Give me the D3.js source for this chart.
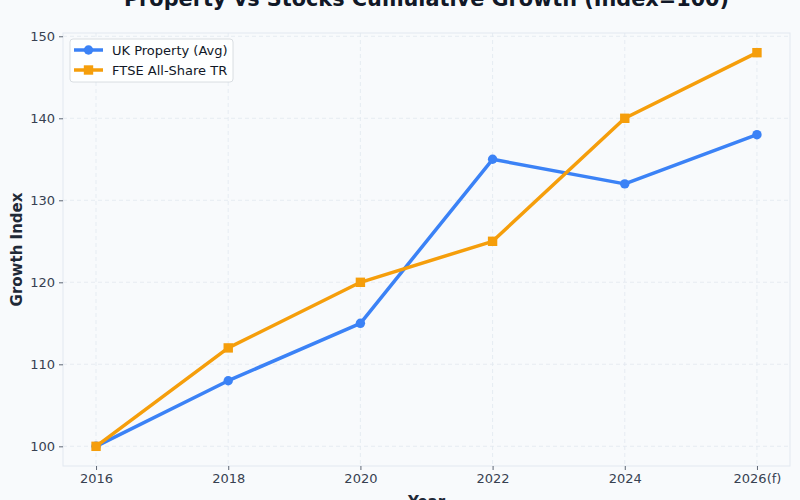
<!DOCTYPE html>
<html>
<head>
<meta charset="utf-8">
<script src="https://cdn.jsdelivr.net/npm/d3@7"></script>
<style>
  body { margin: 0; background: #f8fafc; }
  svg { display: block; font-family: "DejaVu Sans", sans-serif; }
</style>
</head>
<body>
<svg id="chart" width="800" height="500"></svg>
<script>
// chart data
var years = ["2016", "2018", "2020", "2022", "2024", "2026(f)"];
var ukProperty = [100, 108, 115, 135, 132, 138];
var ftseAllShare = [100, 112, 120, 125, 140, 148];
var yTicks = [100, 110, 120, 130, 140, 150];

var series = [
    { name: "UK Property (Avg)", values: ukProperty, color: "#3b82f6", marker: "circle" },
    { name: "FTSE All-Share TR", values: ftseAllShare, color: "#f59e0b", marker: "square" }
];

var width = 800, height = 500;
var margin = { top: 33, right: 10, bottom: 34, left: 63 };

var svg = d3.select("#chart");

svg.append("rect")
    .attr("width", width)
    .attr("height", height)
    .attr("fill", "#f8fafc");

// scales - matplotlib style 5% padding
var x = d3.scaleLinear()
    .domain([-0.25, years.length - 0.75])
    .range([margin.left, width - margin.right]);

var allVals = ukProperty.concat(ftseAllShare);
var yMin = d3.min(allVals), yMax = d3.max(allVals), pad = (yMax - yMin) * 0.05;
var y = d3.scaleLinear()
    .domain([yMin - pad, yMax + pad])
    .range([height - margin.bottom, margin.top]);

// grid
var grid = svg.append("g").attr("class", "grid");
grid.selectAll("line.gy")
    .data(yTicks)
    .enter().append("line")
    .attr("x1", margin.left).attr("x2", width - margin.right)
    .attr("y1", function(d) { return y(d); }).attr("y2", function(d) { return y(d); })
    .style("stroke", "#e2e8f0")
    .style("stroke-dasharray", "4,3")
    .style("stroke-width", 0.8);
grid.selectAll("line.gx")
    .data(years)
    .enter().append("line")
    .attr("x1", function(d, i) { return x(i); }).attr("x2", function(d, i) { return x(i); })
    .attr("y1", margin.top).attr("y2", height - margin.bottom)
    .style("stroke", "#e2e8f0")
    .style("stroke-dasharray", "4,3")
    .style("stroke-width", 0.8);

// plot frame
svg.append("rect")
    .attr("x", margin.left).attr("y", margin.top)
    .attr("width", width - margin.left - margin.right)
    .attr("height", height - margin.top - margin.bottom)
    .attr("fill", "none")
    .attr("stroke", "#e2e8f0")
    .attr("stroke-width", 1);

// axes
var xAxis = svg.append("g")
    .attr("transform", "translate(0," + (height - margin.bottom) + ")")
    .call(d3.axisBottom(x)
        .tickValues(d3.range(years.length))
        .tickFormat(function(i) { return years[i]; })
        .tickSize(4).tickPadding(4));

var yAxis = svg.append("g")
    .attr("transform", "translate(" + margin.left + ",0)")
    .call(d3.axisLeft(y).tickValues(yTicks).tickSize(4).tickPadding(4));

[xAxis, yAxis].forEach(function(ax) {
    ax.select(".domain").remove();
    ax.selectAll(".tick line").style("stroke", "#374151").style("stroke-width", 0.8);
    ax.selectAll(".tick text")
        .style("fill", "#374151")
        .style("font-size", "13px")
        .style("font-family", "'DejaVu Sans', sans-serif");
});

// lines + markers
var line = d3.line()
    .x(function(d, i) { return x(i); })
    .y(function(d) { return y(d); });

series.forEach(function(s) {
    svg.append("path")
        .datum(s.values)
        .attr("d", line)
        .attr("fill", "none")
        .attr("stroke", s.color)
        .attr("stroke-width", 3.5)
        .attr("stroke-linejoin", "round");

    var pts = svg.append("g").selectAll(".pt")
        .data(s.values)
        .enter();
    if (s.marker == "circle") {
        pts.append("circle")
            .attr("cx", function(d, i) { return x(i); })
            .attr("cy", function(d) { return y(d); })
            .attr("r", 4.7)
            .attr("fill", s.color);
    } else {
        pts.append("rect")
            .attr("x", function(d, i) { return x(i) - 4.7; })
            .attr("y", function(d) { return y(d) - 4.7; })
            .attr("width", 9.4).attr("height", 9.4)
            .attr("fill", s.color);
    }
});

// title (partly off the top like the source image)
svg.append("text")
    .attr("x", (margin.left + width - margin.right) / 2)
    .attr("y", 6)
    .attr("text-anchor", "middle")
    .style("font-size", "20.8px")
    .style("font-weight", "bold")
    .style("fill", "#111827")
    .text("Property vs Stocks Cumulative Growth (Index=100)");

// axis titles
svg.append("text")
    .attr("x", (margin.left + width - margin.right) / 2)
    .attr("y", 507)
    .attr("text-anchor", "middle")
    .style("font-size", "15px")
    .style("font-weight", "bold")
    .style("fill", "#1f2937")
    .text("Year");

svg.append("text")
    .attr("transform", "translate(22," + ((margin.top + height - margin.bottom) / 2) + ") rotate(-90)")
    .attr("text-anchor", "middle")
    .style("font-size", "15px")
    .style("font-weight", "bold")
    .style("fill", "#1f2937")
    .text("Growth Index");

// legend
var legend = svg.append("g").attr("transform", "translate(70,39)");
legend.append("rect")
    .attr("width", 163).attr("height", 43)
    .attr("rx", 3)
    .attr("fill", "#ffffff")
    .attr("fill-opacity", 0.85)
    .attr("stroke", "#d1d5db")
    .attr("stroke-width", 0.8);

var items = legend.selectAll(".item")
    .data(series)
    .enter().append("g")
    .attr("transform", function(d, i) { return "translate(0," + (11 + i * 20) + ")"; });

items.append("line")
    .attr("x1", 4).attr("x2", 33)
    .attr("stroke", function(d) { return d.color; })
    .attr("stroke-width", 3.5);
items.filter(function(d) { return d.marker == "circle"; })
    .append("circle").attr("cx", 18.5).attr("r", 4.7)
    .attr("fill", function(d) { return d.color; });
items.filter(function(d) { return d.marker == "square"; })
    .append("rect").attr("x", 13.8).attr("y", -4.7).attr("width", 9.4).attr("height", 9.4)
    .attr("fill", function(d) { return d.color; });
items.append("text")
    .attr("x", 42).attr("dy", "0.35em")
    .style("font-size", "13px")
    .style("fill", "#111827")
    .text(function(d) { return d.name; });
</script>
</body>
</html>
